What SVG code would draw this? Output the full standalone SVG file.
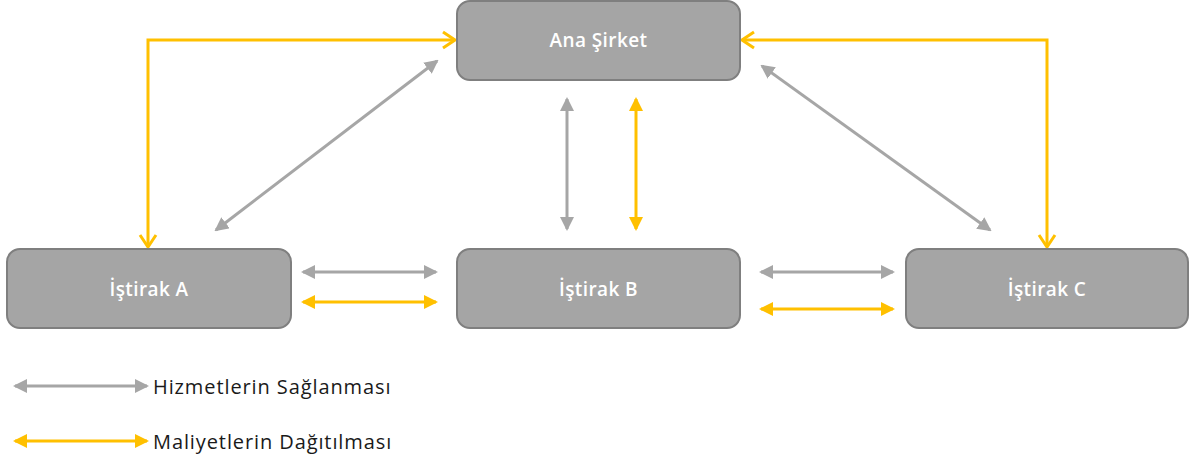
<svg xmlns="http://www.w3.org/2000/svg" width="1192" height="462" viewBox="0 0 1192 462">
<style>
.box{fill:#a5a5a5;stroke:#7f7f7f;stroke-width:2}
.lbl{font-family:"Open Sans","Noto Sans",sans-serif;font-size:19px;font-weight:600;letter-spacing:0.4px;fill:#ffffff;text-anchor:middle}
.leg{font-family:"Open Sans","Noto Sans",sans-serif;font-size:20px;letter-spacing:0.9px;fill:#1a1a1a}
.g{stroke:#a6a6a6;stroke-width:3;fill:none;marker-start:url(#gh);marker-end:url(#gh)}
.y{stroke:#ffc000;stroke-width:3;fill:none;marker-start:url(#yh);marker-end:url(#yh)}
.yo{stroke:#ffc000;stroke-width:3;fill:none;marker-start:url(#yc);marker-end:url(#yc)}
</style>
<defs>
<marker id="gh" viewBox="0 0 14 14" refX="12" refY="7" markerWidth="14" markerHeight="14" markerUnits="userSpaceOnUse" orient="auto-start-reverse"><path d="M0,0 L14,7 L0,14 Z" fill="#a6a6a6"/></marker>
<marker id="yh" viewBox="0 0 14 14" refX="12" refY="7" markerWidth="14" markerHeight="14" markerUnits="userSpaceOnUse" orient="auto-start-reverse"><path d="M0,0 L14,7 L0,14 Z" fill="#ffc000"/></marker>
<marker id="yc" viewBox="0 0 16 20" refX="14" refY="10" markerWidth="16" markerHeight="20" markerUnits="userSpaceOnUse" orient="auto-start-reverse"><path d="M2,2 L14,10 L2,18" fill="none" stroke="#ffc000" stroke-width="3"/></marker>
</defs>
<g id="connectors">
<path class="yo" d="M455,40 L148,40 L148,247"/>
<path class="yo" d="M742,40 L1047,40 L1047,247"/>
<line class="g" x1="437" y1="61" x2="216" y2="230"/>
<line class="g" x1="762" y1="66" x2="990" y2="230"/>
<line class="g" x1="567" y1="99" x2="567" y2="229"/>
<line class="y" x1="636" y1="99" x2="636" y2="229"/>
<line class="g" x1="303" y1="272" x2="436" y2="272"/>
<line class="y" x1="303" y1="302" x2="436" y2="302"/>
<line class="g" x1="761" y1="272" x2="893" y2="272"/>
<line class="y" x1="761" y1="309" x2="893" y2="309"/>
</g>
<g id="ana"><rect class="box" x="457" y="1" width="283" height="79" rx="13"/><text class="lbl" x="598.5" y="47">Ana Şirket</text></g>
<g id="a"><rect class="box" x="7" y="249" width="284" height="79" rx="13"/><text class="lbl" x="149" y="296">İştirak A</text></g>
<g id="b"><rect class="box" x="457" y="249" width="283" height="79" rx="13"/><text class="lbl" x="598.5" y="296">İştirak B</text></g>
<g id="c"><rect class="box" x="906" y="249" width="282" height="79" rx="13"/><text class="lbl" x="1047" y="296">İştirak C</text></g>
<g id="legend">
<line class="g" x1="15" y1="386" x2="147" y2="386"/>
<text class="leg" x="153" y="394">Hizmetlerin Sağlanması</text>
<line class="y" x1="15" y1="441" x2="147" y2="441"/>
<text class="leg" x="153" y="449">Maliyetlerin Dağıtılması</text>
</g>
</svg>
